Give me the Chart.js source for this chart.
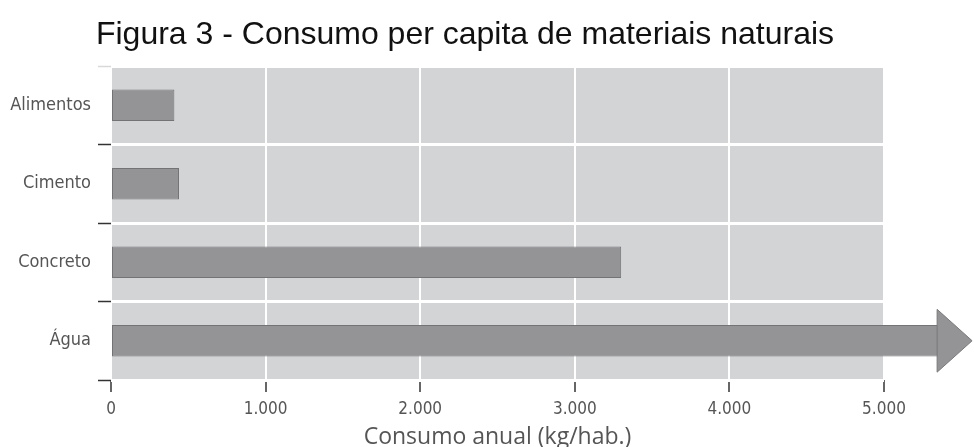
<!DOCTYPE html>
<html>
<head>
<meta charset="utf-8">
<script src="https://cdn.jsdelivr.net/npm/chart.js@4"></script>
<style>
  html, body { margin: 0; padding: 0; background: #fff; }
  #wrap { width: 974px; height: 447px; position: relative; }
</style>
</head>
<body>
<div id="wrap"><canvas id="grafico"></canvas></div>
<script>
// Dados (kg/hab. por ano)
const categorias = ['Alimentos', 'Cimento', 'Concreto', 'Água'];
const consumo = [410, 440, 3300, 5350]; // Água ultrapassa a escala -> seta
const ticksX = [0, 1000, 2000, 3000, 4000, 5000];

const titulo = 'Figura 3 - Consumo per capita de materiais naturais';
const tituloEixo = 'Consumo anual (kg/hab.)';

const fonteCondensada = "'Liberation Sans Narrow', 'DejaVu Sans Condensed', sans-serif";

// fundo cinza da área do gráfico + título
const fundoPlugin = {
  id: 'fundo',
  beforeDraw(chart) {
    const { ctx, chartArea: a } = chart;
    ctx.save();
    ctx.fillStyle = '#d3d4d6';
    ctx.fillRect(a.left, a.top, a.right - a.left, a.bottom - a.top);
    ctx.restore();
  },
  afterDraw(chart) {
    const ctx = chart.ctx;
    ctx.save();
    ctx.fillStyle = '#111';
    ctx.font = "32px 'Liberation Sans', Arial, sans-serif";
    ctx.textAlign = 'center';
    ctx.textBaseline = 'alphabetic';
    ctx.fillText(titulo, 465, 44);
    ctx.restore();
  }
};

// ponta de seta na barra que passa do limite
const setaPlugin = {
  id: 'seta',
  afterDatasetsDraw(chart) {
    const meta = chart.getDatasetMeta(0);
    const el = meta.data[categorias.length - 1];
    if (!el) return;
    const ctx = chart.ctx;
    const h = el.height;
    ctx.save();
    ctx.fillStyle = '#949497';
    ctx.strokeStyle = '#7a7a7d';
    ctx.lineWidth = 1;
    ctx.beginPath();
    ctx.moveTo(el.x - 1, el.y - h);
    ctx.lineTo(el.x + 34, el.y);
    ctx.lineTo(el.x - 1, el.y + h);
    ctx.closePath();
    ctx.fill();
    ctx.stroke();
    ctx.restore();
  }
};

new Chart(document.getElementById('grafico'), {
  type: 'bar',
  data: {
    labels: categorias,
    datasets: [{
      data: consumo,
      backgroundColor: '#949497',
      borderColor: '#737376',
      borderWidth: 1,
      borderSkipped: false,
      barPercentage: 0.4,
      categoryPercentage: 1,
      clip: false
    }]
  },
  options: {
    indexAxis: 'y',
    responsive: true,
    maintainAspectRatio: false,
    animation: false,
    layout: { padding: { top: 66, right: 90, left: 0, bottom: 0 } },
    plugins: {
      legend: { display: false },
      tooltip: { enabled: false }
    },
    scales: {
      x: {
        min: 0,
        max: 5000,
        afterBuildTicks: s => { s.ticks = ticksX.map(v => ({ value: v })); },
        afterFit: s => { s.height = 67; },
        border: { display: false },
        grid: { color: '#ffffff', lineWidth: 2, tickColor: '#333', tickLength: 12, tickWidth: 1.5 },
        ticks: {
          color: '#555',
          padding: 7,
          font: { family: fonteCondensada, size: 17 },
          callback: v => v.toLocaleString('pt-BR')
        },
        title: {
          display: true,
          text: tituloEixo,
          color: '#555',
          padding: { top: 0, bottom: -4 },
          font: { family: "'Open Sans', sans-serif", size: 23 }
        }
      },
      y: {
        afterFit: s => { s.width = 111; },
        border: { display: false },
        grid: {
          offset: true,
          color: '#ffffff',
          lineWidth: 3,
          tickLength: 13,
          tickWidth: 1.5,
          tickColor: c => c.index === 0 ? '#d8d8d8' : '#333'
        },
        ticks: {
          color: '#555',
          padding: 7,
          font: { family: fonteCondensada, size: 18 }
        }
      }
    }
  },
  plugins: [fundoPlugin, setaPlugin]
});
</script>
</body>
</html>
